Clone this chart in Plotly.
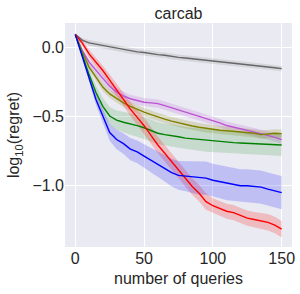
import plotly.graph_objects as go

queries = list(range(0, 151, 5))

gray_mean = [0.09, 0.05, 0.03, 0.02, 0.01, 0.0, -0.01, -0.02, -0.03, -0.035, -0.04, -0.05, -0.055,
             -0.06, -0.07, -0.075, -0.08, -0.085, -0.09, -0.095, -0.10, -0.105, -0.11, -0.115,
             -0.12, -0.13, -0.135, -0.14, -0.145, -0.15, -0.157]
gray_err = [0.01, 0.015, 0.02, 0.02, 0.02, 0.02, 0.02, 0.02, 0.02, 0.02, 0.02, 0.02, 0.02, 0.02,
            0.02, 0.02, 0.02, 0.02, 0.02, 0.02, 0.02, 0.02, 0.02, 0.02, 0.02, 0.02, 0.02, 0.02,
            0.02, 0.02, 0.02]

red_mean = [0.09, 0.03, -0.05, -0.11, -0.17, -0.24, -0.31, -0.38, -0.45, -0.51, -0.57, -0.64,
            -0.71, -0.77, -0.83, -0.89, -0.95, -1.01, -1.06, -1.12, -1.15, -1.17, -1.19, -1.20,
            -1.22, -1.24, -1.25, -1.26, -1.27, -1.29, -1.32]
red_err = [0.01, 0.02, 0.03, 0.035, 0.035, 0.04, 0.045, 0.05, 0.05, 0.055, 0.06, 0.06, 0.06,
           0.06, 0.06, 0.06, 0.06, 0.06, 0.06, 0.06, 0.055, 0.055, 0.055, 0.055, 0.055, 0.055,
           0.055, 0.06, 0.06, 0.06, 0.06]

blue_mean = [0.09, -0.07, -0.22, -0.38, -0.50, -0.62, -0.67, -0.70, -0.74, -0.76, -0.79, -0.82,
             -0.85, -0.88, -0.91, -0.93, -0.935, -0.94, -0.95, -0.95, -0.965, -0.975, -0.99,
             -1.0, -1.005, -1.005, -1.01, -1.015, -1.03, -1.04, -1.055]
blue_err = [0.01, 0.02, 0.03, 0.04, 0.05, 0.06, 0.07, 0.075, 0.08, 0.083, 0.085, 0.088, 0.09,
            0.095, 0.1, 0.105, 0.11, 0.115, 0.12, 0.12, 0.12, 0.12, 0.12, 0.12, 0.12, 0.12, 0.12,
            0.12, 0.12, 0.12, 0.12]

green_mean = [0.09, -0.06, -0.20, -0.33, -0.43, -0.50, -0.53, -0.545, -0.555, -0.57, -0.585,
              -0.605, -0.625, -0.635, -0.64, -0.65, -0.66, -0.665, -0.672, -0.678, -0.683,
              -0.687, -0.69, -0.693, -0.695, -0.698, -0.70, -0.703, -0.705, -0.707, -0.71]
green_err = [0.01, 0.02, 0.04, 0.05, 0.06, 0.065, 0.07, 0.075, 0.08, 0.08, 0.08, 0.08, 0.08,
             0.08, 0.08, 0.08, 0.08, 0.08, 0.08, 0.08, 0.08, 0.08, 0.08, 0.08, 0.08, 0.08, 0.08,
             0.08, 0.08, 0.08, 0.08]

olive_mean = [0.09, -0.035, -0.145, -0.22, -0.29, -0.34, -0.375, -0.405, -0.43, -0.452, -0.472,
              -0.49, -0.508, -0.523, -0.537, -0.55, -0.562, -0.572, -0.581, -0.59, -0.598,
              -0.603, -0.607, -0.611, -0.615, -0.62, -0.625, -0.635, -0.63, -0.625, -0.628]
olive_err = [0.01, 0.015, 0.02, 0.025, 0.03, 0.03, 0.03, 0.03, 0.03, 0.03, 0.03, 0.03, 0.03,
             0.03, 0.03, 0.03, 0.03, 0.03, 0.03, 0.03, 0.03, 0.03, 0.03, 0.03, 0.03, 0.03, 0.03,
             0.03, 0.03, 0.03, 0.03]

purple_mean = [0.09, -0.025, -0.11, -0.17, -0.23, -0.285, -0.327, -0.355, -0.375, -0.39, -0.40,
               -0.405, -0.41, -0.425, -0.44, -0.455, -0.472, -0.488, -0.503, -0.518, -0.533,
               -0.55, -0.569, -0.58, -0.593, -0.605, -0.617, -0.628, -0.64, -0.655, -0.671]
purple_err = [0.01, 0.015, 0.02, 0.025, 0.03, 0.03, 0.03, 0.03, 0.03, 0.03, 0.03, 0.03, 0.03,
              0.03, 0.03, 0.03, 0.03, 0.03, 0.03, 0.03, 0.03, 0.03, 0.03, 0.03, 0.03, 0.03, 0.03,
              0.03, 0.03, 0.03, 0.03]

series = [
    (gray_mean, gray_err, "#666666", "rgba(128,128,128,0.2)"),
    (purple_mean, purple_err, "#BA55D3", "rgba(186,85,211,0.2)"),
    (olive_mean, olive_err, "#808000", "rgba(128,128,0,0.2)"),
    (green_mean, green_err, "#008000", "rgba(0,128,0,0.15)"),
    (red_mean, red_err, "#FF0000", "rgba(255,0,0,0.2)"),
    (blue_mean, blue_err, "#0000FF", "rgba(0,0,255,0.18)"),
]

fig = go.Figure()
for mean, err, lc, fc in series:
    upper = [m + e for m, e in zip(mean, err)]
    lower = [m - e for m, e in zip(mean, err)]
    fig.add_trace(go.Scatter(x=queries + queries[::-1], y=upper + lower[::-1], fill="toself",
                             fillcolor=fc, line=dict(width=0), mode="lines",
                             hoverinfo="skip", showlegend=False))
for mean, err, lc, fc in series:
    fig.add_trace(go.Scatter(x=queries, y=mean, mode="lines", line=dict(color=lc, width=1.4),
                             showlegend=False))

font = "Liberation Sans, Arial, sans-serif"
fig.update_layout(
    width=300, height=294,
    margin=dict(l=65, r=8, t=23, b=47),
    paper_bgcolor="white", plot_bgcolor="#EAEAF2",
    font=dict(family=font, size=16, color="#262626"),
    title=dict(text="carcab", x=0.5, xref="paper", xanchor="center", y=0.955, yanchor="middle",
               font=dict(family=font, size=16, color="#262626")),
    xaxis=dict(range=[-7.5, 157.5], tickvals=[0, 50, 100, 150], showgrid=True,
               gridcolor="white", gridwidth=1, zeroline=False, showline=False, ticks="",
               automargin=False,
               title=dict(text="number of queries", standoff=6, font=dict(size=16)),
               tickfont=dict(size=16)),
    yaxis=dict(range=[-1.449, 0.174], tickvals=[-1.0, -0.5, 0.0], tickformat=".1f",
               showgrid=True, gridcolor="white", gridwidth=1, zeroline=False, showline=False,
               ticks="", automargin=False,
               title=dict(text="log<sub>10</sub>(regret)", standoff=8, font=dict(size=16)),
               tickfont=dict(size=16)),
)
fig.write_html("out.html", config={"displayModeBar": False},
               post_script="document.body.style.margin='0';")
